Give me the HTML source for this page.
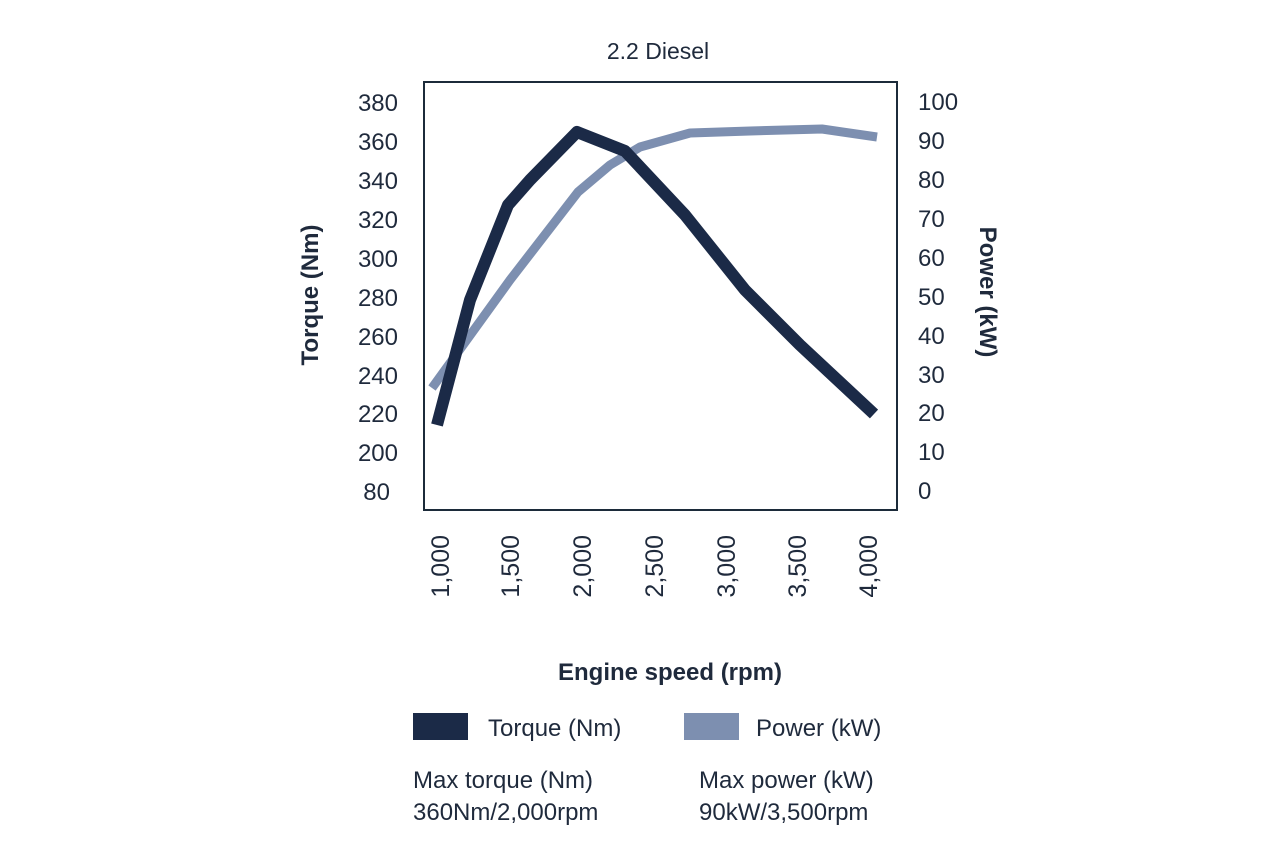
<!DOCTYPE html>
<html><head><style>
body{margin:0;background:#fff;}
text{font-family:"Liberation Sans",sans-serif;fill:#1f2a3c;}
</style></head><body>
<svg width="1280" height="853" viewBox="0 0 1280 853" xmlns="http://www.w3.org/2000/svg">
<text x="658" y="59" font-size="23" text-anchor="middle">2.2 Diesel</text>
<rect x="424" y="82" width="473" height="428" fill="none" stroke="#1c2b3a" stroke-width="2"/>
<g font-size="24" text-anchor="end">
<text x="398" y="111">380</text><text x="398" y="150">360</text><text x="398" y="189">340</text>
<text x="398" y="228">320</text><text x="398" y="267">300</text><text x="398" y="306">280</text>
<text x="398" y="345">260</text><text x="398" y="384">240</text><text x="398" y="422">220</text>
<text x="398" y="461">200</text><text x="390" y="500">80</text>
</g>
<g font-size="24">
<text x="918" y="110">100</text><text x="918" y="149">90</text><text x="918" y="188">80</text>
<text x="918" y="227">70</text><text x="918" y="266">60</text><text x="918" y="305">50</text>
<text x="918" y="344">40</text><text x="918" y="383">30</text><text x="918" y="421">20</text>
<text x="918" y="460">10</text><text x="918" y="499">0</text>
</g>
<text transform="translate(318,295) rotate(-90)" font-size="24" font-weight="bold" text-anchor="middle">Torque (Nm)</text>
<text transform="translate(980,292) rotate(90)" font-size="24" font-weight="bold" text-anchor="middle">Power (kW)</text>
<g font-size="25" text-anchor="end">
<text transform="translate(449,535) rotate(-90)">1,000</text>
<text transform="translate(519,535) rotate(-90)">1,500</text>
<text transform="translate(591,535) rotate(-90)">2,000</text>
<text transform="translate(663,535) rotate(-90)">2,500</text>
<text transform="translate(735,535) rotate(-90)">3,000</text>
<text transform="translate(806,535) rotate(-90)">3,500</text>
<text transform="translate(877,535) rotate(-90)">4,000</text>
</g>
<polyline points="432,388 510,280 578,192 610,165 640,147 690,133 750,131 822,129 877,137" fill="none" stroke="#7d8fb0" stroke-width="9" stroke-linejoin="round"/>
<polyline points="437,425 470,300 508,205 530,180 577,132 625,151 685,215 745,290 800,345 874,414" fill="none" stroke="#1b2a47" stroke-width="12" stroke-linejoin="round"/>
<text x="670" y="680" font-size="24" font-weight="bold" text-anchor="middle">Engine speed (rpm)</text>
<rect x="413" y="713" width="55" height="27" fill="#1b2a47"/>
<text x="488" y="736" font-size="24">Torque (Nm)</text>
<rect x="684" y="713" width="55" height="27" fill="#7d8fb0"/>
<text x="756" y="736" font-size="24">Power (kW)</text>
<text x="413" y="788" font-size="24">Max torque (Nm)</text>
<text x="413" y="820" font-size="24">360Nm/2,000rpm</text>
<text x="699" y="788" font-size="24">Max power (kW)</text>
<text x="699" y="820" font-size="24">90kW/3,500rpm</text>
</svg>
</body></html>
